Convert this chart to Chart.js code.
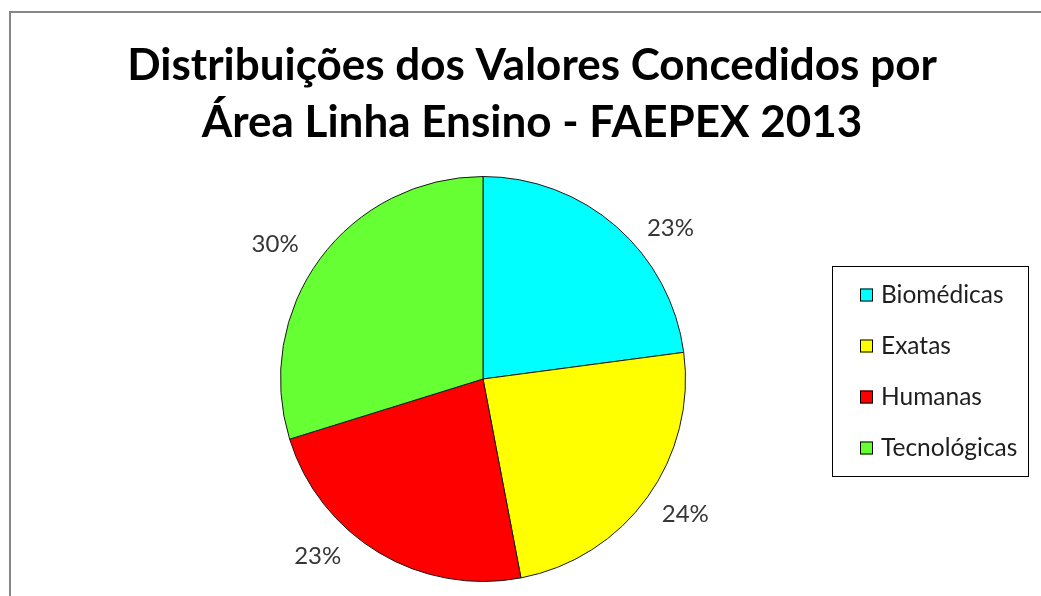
<!DOCTYPE html>
<html>
<head>
<meta charset="utf-8">
<script src="https://cdn.jsdelivr.net/npm/chart.js@4"></script>
<style>
html,body{margin:0;padding:0;background:#fff;overflow:hidden;}
#frame{position:absolute;left:9px;top:11px;width:1100px;height:700px;border:2px solid #878787;box-sizing:border-box;}
#wrap{position:absolute;left:0;top:0;width:1041px;height:596px;}
</style>
</head>
<body>
<div id="frame"></div>
<div id="wrap"><canvas id="c" width="1041" height="596"></canvas></div>
<script>
const titleLines = ["Distribuições dos Valores Concedidos por", "Área Linha Ensino - FAEPEX 2013"];
const categories = ["Biomédicas", "Exatas", "Humanas", "Tecnológicas"];
const values = [22.9, 24.1, 23.2, 29.8];
const colors = ["#00FFFF", "#FFFF00", "#FF0000", "#66FF33"];

const FONT = "Lato, 'Open Sans', sans-serif";

const decor = {
  id: 'decor',
  afterDraw(chart, args, opts) {
    const ctx = chart.ctx;
    ctx.save();
    // title
    ctx.fillStyle = '#000';
    ctx.font = "bold 44px " + FONT;
    ctx.textAlign = 'center';
    ctx.textBaseline = 'alphabetic';
    ctx.fillText(titleLines[0], opts.titleX, opts.titleY[0]);
    ctx.fillText(titleLines[1], opts.titleX, opts.titleY[1]);

    // percentage labels
    const meta = chart.getDatasetMeta(0);
    const total = values.reduce((a, b) => a + b, 0);
    ctx.font = "24px " + FONT;
    ctx.fillStyle = '#363636';
    ctx.textBaseline = 'middle';
    meta.data.forEach((arc, i) => {
      const p = arc.getProps(['x', 'y', 'startAngle', 'endAngle', 'outerRadius'], true);
      const mid = (p.startAngle + p.endAngle) / 2 + opts.labelNudge[i] * Math.PI / 180;
      const r = p.outerRadius + opts.labelDist[i];
      const x = p.x + Math.cos(mid) * r;
      const y = p.y + Math.sin(mid) * r;
      ctx.fillText(Math.round(values[i] / total * 100) + '%', x, y);
    });

    // legend box
    const L = opts.legend;
    ctx.strokeStyle = '#000';
    ctx.lineWidth = 1;
    ctx.strokeRect(L.x + 0.5, L.y + 0.5, L.w, L.h);
    ctx.textAlign = 'left';
    ctx.font = "24.5px " + FONT;
    categories.forEach((name, i) => {
      const cy = L.firstY + i * L.step;
      ctx.fillStyle = colors[i];
      ctx.fillRect(L.x + 28, cy - 6.5, 13, 13);
      ctx.strokeStyle = '#000';
      ctx.strokeRect(L.x + 28.5, cy - 6, 12, 12);
      ctx.fillStyle = '#1e1e1e';
      ctx.fillText(name, L.x + 49, cy);
    });
    ctx.restore();
  }
};

new Chart(document.getElementById('c'), {
  type: 'pie',
  data: {
    labels: categories,
    datasets: [{
      data: values,
      backgroundColor: colors,
      borderColor: '#1a1a1a',
      borderWidth: 1
    }]
  },
  options: {
    responsive: false,
    animation: false,
    events: [],
    layout: { padding: { top: 176, bottom: 14, left: 280, right: 355 } },
    plugins: {
      legend: { display: false },
      title: { display: false },
      tooltip: { enabled: false },
      decor: {
        titleX: 532,
        titleY: [80, 137],
        labelNudge: [10, -2, 12, -3.5],
        labelDist: [38, 41, 40, 45],
        legend: { x: 832, y: 266, w: 196, h: 210, firstY: 295, step: 51 }
      }
    }
  },
  plugins: [decor]
});
</script>
</body>
</html>
